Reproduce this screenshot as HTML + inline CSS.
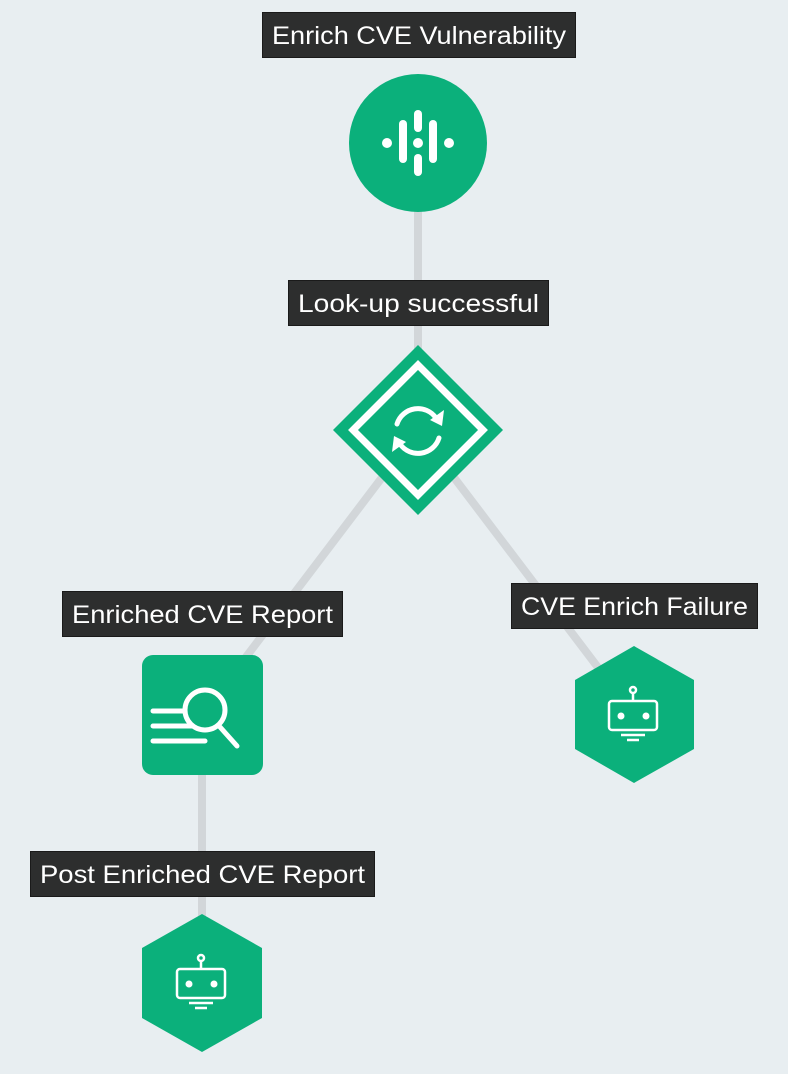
<!DOCTYPE html>
<html><head><meta charset="utf-8"><style>
html,body{margin:0;padding:0;background:#e8eef1;}
svg{display:block;}
text{font-family:"Liberation Sans",Arial,sans-serif;font-size:25px;fill:#ffffff;}
</style></head><body>
<svg width="788" height="1074" viewBox="0 0 788 1074" xmlns="http://www.w3.org/2000/svg">
<rect width="788" height="1074" fill="#e8eef1"/>
<g stroke="#d2d6d9" stroke-width="8" fill="none">
<line x1="418" y1="200" x2="418" y2="360"/>
<line x1="418" y1="430" x2="202" y2="715"/>
<line x1="418" y1="430" x2="634" y2="715"/>
<line x1="202" y1="715" x2="202" y2="980"/>
</g>
<!-- circle node -->
<circle cx="418" cy="143" r="69" fill="#0bb07b"/>
<g fill="#fff">
<circle cx="387" cy="143" r="5"/><circle cx="418" cy="143" r="5"/><circle cx="449" cy="143" r="5"/>
<rect x="399" y="120" width="8" height="43" rx="4"/>
<rect x="429" y="120" width="8" height="43" rx="4"/>
<rect x="414" y="110" width="8" height="22" rx="4"/>
<rect x="414" y="154" width="8" height="22" rx="4"/>
</g>
<!-- diamond -->
<polygon points="418,345 503,430 418,515 333,430" fill="#0bb07b"/>
<polygon points="418,365 483,430 418,495 353,430" fill="none" stroke="#fff" stroke-width="7"/>
<g fill="none" stroke="#fff" stroke-width="5" stroke-linecap="round">
<path d="M397,424 A22,22 0 0 1 436,418"/>
<path d="M439,438 A22,22 0 0 1 400,444"/>
</g>
<polygon points="444,410 442,426 430,420" fill="#fff"/>
<polygon points="392,452 394,436 406,442" fill="#fff"/>
<!-- rect node -->
<rect x="142" y="655" width="121" height="120" rx="11" fill="#0bb07b"/>
<g stroke="#fff" stroke-width="5" stroke-linecap="round" fill="none">
<line x1="153" y1="711" x2="184" y2="711"/>
<line x1="153" y1="726" x2="192" y2="726"/>
<line x1="153" y1="741" x2="205" y2="741"/>
<circle cx="205" cy="710" r="20"/>
<line x1="220" y1="727" x2="237" y2="746"/>
</g>
<!-- hexagons -->
<polygon points="634,646 694,680 694,749 634,783 575,749 575,680" fill="#0bb07b"/>
<polygon points="202,914 262,948 262,1018 202,1052 142,1018 142,948" fill="#0bb07b"/>
<g fill="none" stroke="#fff" stroke-width="2.5">
<rect x="609" y="701" width="48" height="29" rx="3"/>
<circle cx="633" cy="690" r="3"/><line x1="633" y1="693" x2="633" y2="701"/>
<line x1="621" y1="735" x2="645" y2="735"/><line x1="627" y1="740" x2="639" y2="740"/>
<rect x="177" y="969" width="48" height="29" rx="3"/>
<circle cx="201" cy="958" r="3"/><line x1="201" y1="961" x2="201" y2="969"/>
<line x1="189" y1="1003" x2="213" y2="1003"/><line x1="195" y1="1008" x2="207" y2="1008"/>
</g>
<g fill="#fff">
<circle cx="621" cy="716" r="3.5"/><circle cx="646" cy="716" r="3.5"/>
<circle cx="189" cy="984" r="3.5"/><circle cx="214" cy="984" r="3.5"/>
</g>
<!-- labels -->
<g stroke="#1a1a1a" stroke-width="1" fill="#2d2e2e">
<rect x="262.5" y="12.5" width="313" height="45"/>
<rect x="288.5" y="280.5" width="260" height="45"/>
<rect x="62.5" y="591.5" width="280" height="45"/>
<rect x="511.5" y="583.5" width="246" height="45"/>
<rect x="30.5" y="851.5" width="344" height="45"/>
</g>
<text x="272" y="44" textLength="294" lengthAdjust="spacingAndGlyphs">Enrich CVE Vulnerability</text>
<text x="298" y="312" textLength="241" lengthAdjust="spacingAndGlyphs">Look-up successful</text>
<text x="72" y="623" textLength="261" lengthAdjust="spacingAndGlyphs">Enriched CVE Report</text>
<text x="521" y="615" textLength="227" lengthAdjust="spacingAndGlyphs">CVE Enrich Failure</text>
<text x="40" y="883" textLength="325" lengthAdjust="spacingAndGlyphs">Post Enriched CVE Report</text>
</svg>
</body></html>
